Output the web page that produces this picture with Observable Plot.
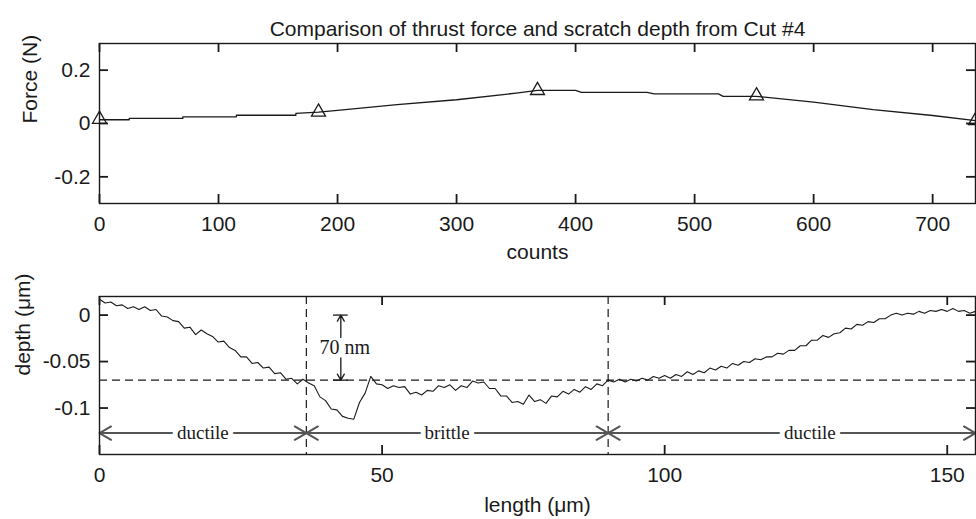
<!DOCTYPE html>
<html><head><meta charset="utf-8">
<script src="https://cdn.jsdelivr.net/npm/d3@7"></script>
<script src="https://cdn.jsdelivr.net/npm/@observablehq/plot@0.6"></script>
<style>
body{margin:0;background:#fff;}
#chart{width:976px;height:519px;overflow:hidden;}
#chart svg{display:block;}
</style></head><body><div id="chart"></div>
<script>
// ---------- data ----------
const chartTitle = "Comparison of thrust force and scratch depth from Cut #4";
const forceXLabel = "counts";
const forceYLabel = "Force (N)";
const depthXLabel = "length (μm)";
const depthYLabel = "depth (μm)";

const forceCounts = [0, 25, 25, 70, 70, 115, 115, 165, 165, 184, 200, 250, 300, 350, 368, 400, 405, 460, 466, 520, 524, 552, 600, 650, 700, 736];
const forceValues = [0.014, 0.014, 0.019, 0.019, 0.025, 0.025, 0.031, 0.031, 0.038, 0.043, 0.049, 0.071, 0.089, 0.114, 0.124, 0.124, 0.117, 0.117, 0.111, 0.111, 0.102, 0.102, 0.080, 0.052, 0.030, 0.011];
const markerCounts = [0, 184, 368, 552, 736];
const markerForces = [0.016, 0.043, 0.124, 0.104, 0.011];
const countTicks = [0, 100, 200, 300, 400, 500, 600, 700];
const forceTicks = [-0.2, 0, 0.2];
const countDomain = [0, 736];
const forceDomain = [-0.3, 0.3];

const lengthStep = 1; // µm between samples
const depthValues = [
  0.017, 0.013, 0.014, 0.010, 0.011, 0.007, 0.009, 0.006, 0.009, 0.005,
  0.006, -0.001, -0.002, -0.006, -0.007, -0.014, -0.013, -0.021, -0.016, -0.020,
  -0.023, -0.029, -0.028, -0.035, -0.038, -0.045, -0.045, -0.052, -0.051, -0.057,
  -0.056, -0.063, -0.062, -0.069, -0.068, -0.074, -0.069, -0.073, -0.076, -0.088,
  -0.092, -0.101, -0.102, -0.109, -0.111, -0.112, -0.094, -0.084, -0.066, -0.074,
  -0.075, -0.079, -0.076, -0.078, -0.077, -0.085, -0.083, -0.086, -0.081, -0.082,
  -0.076, -0.078, -0.075, -0.081, -0.076, -0.078, -0.071, -0.073, -0.072, -0.079,
  -0.079, -0.087, -0.087, -0.094, -0.093, -0.096, -0.086, -0.093, -0.091, -0.095,
  -0.087, -0.088, -0.082, -0.085, -0.080, -0.083, -0.077, -0.080, -0.074, -0.076,
  -0.070, -0.072, -0.069, -0.072, -0.069, -0.071, -0.068, -0.070, -0.066, -0.068,
  -0.065, -0.068, -0.064, -0.066, -0.061, -0.064, -0.060, -0.062, -0.057, -0.059,
  -0.055, -0.057, -0.052, -0.054, -0.050, -0.051, -0.047, -0.048, -0.045, -0.045,
  -0.041, -0.042, -0.038, -0.038, -0.033, -0.033, -0.027, -0.027, -0.022, -0.024,
  -0.020, -0.019, -0.014, -0.015, -0.010, -0.011, -0.007, -0.008, -0.004, -0.004,
  0.000, 0.002, 0.000, 0.002, 0.001, 0.004, 0.002, 0.005, 0.004, 0.006,
  0.004, 0.007, 0.004, 0.005, 0.002, 0.004
];
const lengthTicks = [0, 50, 100, 150];
const depthTicks = [-0.1, -0.05, 0];
const lengthDomain = [0, 155];
const depthDomain = [-0.15, 0.02];

const boundaryLengths = [36.6, 90];
const thresholdDepth = -0.07;
const regionNames = ["ductile", "brittle", "ductile"];
const regionStart = [0, 36.6, 90];
const regionEnd = [36.6, 90, 155];
const regionLabelAt = [18.3, 61.5, 125.7];
const regionRowDepth = -0.127;

const scaleMarkLength = 42.7;
const scaleMarkBarHalf = 1.3;
const scaleMarkDepths = [0, -0.07];
const scaleMarkLabel = "70 nm";
const scaleMarkLabelAt = [43.4, -0.035];
const scaleArrowUp = [-0.024, 0];
const scaleArrowDown = [-0.046, -0.07];

// ---------- tables ----------
const forceLine = forceCounts.map((c, i) => ({c, f: forceValues[i]}));
const forceMarkers = markerCounts.map((c, i) => ({c, f: markerForces[i]}));
const depthLine = depthValues.map((d, i) => ({L: i * lengthStep, d}));
const regionArrows = regionNames.flatMap((n, i) => [
  {from: regionLabelAt[i], to: regionStart[i]},
  {from: regionLabelAt[i], to: regionEnd[i]}
]);
const regionTexts = regionNames.map((n, i) => ({n, x: regionLabelAt[i]}));

// ---------- style ----------
const sans = "'Liberation Sans', Arial, sans-serif";
const serif = "'Liberation Serif', 'Times New Roman', serif";
const ink = "#1a1a1a";
const fs = 21;
const tickPx = 9;
const fmt = d => String(d);
const W = 976, ML = 99, MR = 1;

// MATLAB-style box: labels outside, ticks pointing inward on all four sides
function boxAxes(xt, yt, xd, yd, frameW, frameH, xPad, yPad) {
  const kx = tickPx * (xd[1] - xd[0]) / frameW;  // tick length in x units
  const ky = tickPx * (yd[1] - yd[0]) / frameH;  // tick length in y units
  const st = {stroke: ink, strokeWidth: 1.8};
  return [
    Plot.ruleX(xt, {x: d => d, y1: () => yd[0], y2: () => yd[0] + ky, ...st}),
    Plot.ruleX(xt, {x: d => d, y1: () => yd[1] - ky, y2: () => yd[1], ...st}),
    Plot.ruleY(yt, {y: d => d, x1: () => xd[0], x2: () => xd[0] + kx, ...st}),
    Plot.ruleY(yt, {y: d => d, x1: () => xd[1] - kx, x2: () => xd[1], ...st}),
    Plot.axisX({ticks: xt, anchor: "bottom", tickSize: 0, tickPadding: xPad, tickFormat: fmt, fontSize: fs, fontFamily: sans, fill: ink, label: null}),
    Plot.axisY({ticks: yt, anchor: "left", tickSize: 0, tickPadding: yPad, tickFormat: fmt, fontSize: fs, fontFamily: sans, fill: ink, label: null}),
    Plot.frame({stroke: ink, strokeWidth: 1.4})
  ];
}

const forceChart = Plot.plot({
  width: W, height: 263,
  marginTop: 43, marginBottom: 60, marginLeft: ML, marginRight: MR,
  style: {background: "#fff", overflow: "visible"},
  x: {domain: countDomain},
  y: {domain: forceDomain},
  marks: [
    Plot.line(forceLine, {x: "c", y: "f", stroke: ink, strokeWidth: 1.3}),
    Plot.dot(forceMarkers, {x: "c", y: "f", symbol: "triangle", r: 5.2, stroke: ink, fill: "none", strokeWidth: 1.3}),
    ...boxAxes(countTicks, forceTicks, countDomain, forceDomain, W - ML - MR, 160, 13, 9),
    Plot.text([chartTitle], {frameAnchor: "top", dy: -22, fontSize: fs, fontFamily: sans, fill: ink}),
    Plot.text([forceXLabel], {frameAnchor: "bottom", dy: 55, fontSize: fs, fontFamily: sans, fill: ink}),
    Plot.text([forceYLabel], {frameAnchor: "left", dx: -69, rotate: -90, fontSize: fs, fontFamily: sans, fill: ink})
  ]
});

const depthChart = Plot.plot({
  width: W, height: 256,
  marginTop: 33, marginBottom: 65, marginLeft: ML, marginRight: MR,
  style: {background: "#fff", overflow: "visible"},
  x: {domain: lengthDomain},
  y: {domain: depthDomain},
  marks: [
    Plot.ruleY([thresholdDepth], {stroke: ink, strokeWidth: 1.2, strokeDasharray: "8,5"}),
    Plot.ruleX(boundaryLengths, {stroke: ink, strokeWidth: 1.2, strokeDasharray: "8,5"}),
    Plot.line(depthLine, {x: "L", y: "d", stroke: ink, strokeWidth: 1.1}),
    Plot.arrow(regionArrows, {x1: "from", x2: "to", y1: () => regionRowDepth, y2: () => regionRowDepth, stroke: "#555", strokeWidth: 2, headLength: 10}),
    Plot.text(regionTexts, {x: "x", y: () => regionRowDepth, text: "n", fontFamily: serif, fontSize: 19, fill: ink, stroke: "white", strokeWidth: 10}),
    Plot.ruleY(scaleMarkDepths, {x1: () => scaleMarkLength - scaleMarkBarHalf, x2: () => scaleMarkLength + scaleMarkBarHalf, stroke: ink, strokeWidth: 1.3}),
    Plot.arrow([scaleArrowUp, scaleArrowDown], {x1: () => scaleMarkLength, x2: () => scaleMarkLength, y1: d => d[0], y2: d => d[1], stroke: ink, strokeWidth: 1.3, headLength: 8}),
    Plot.text([scaleMarkLabel], {x: () => scaleMarkLabelAt[0], y: () => scaleMarkLabelAt[1], fontFamily: serif, fontSize: 20, fill: ink}),
    ...boxAxes(lengthTicks, depthTicks, lengthDomain, depthDomain, W - ML - MR, 158, 13, 9),
    Plot.text([depthXLabel], {frameAnchor: "bottom", dy: 57, fontSize: fs, fontFamily: sans, fill: ink}),
    Plot.text([depthYLabel], {frameAnchor: "left", dx: -76, rotate: -90, fontSize: fs, fontFamily: sans, fill: ink})
  ]
});

document.getElementById("chart").append(forceChart, depthChart);
</script>
</body></html>
